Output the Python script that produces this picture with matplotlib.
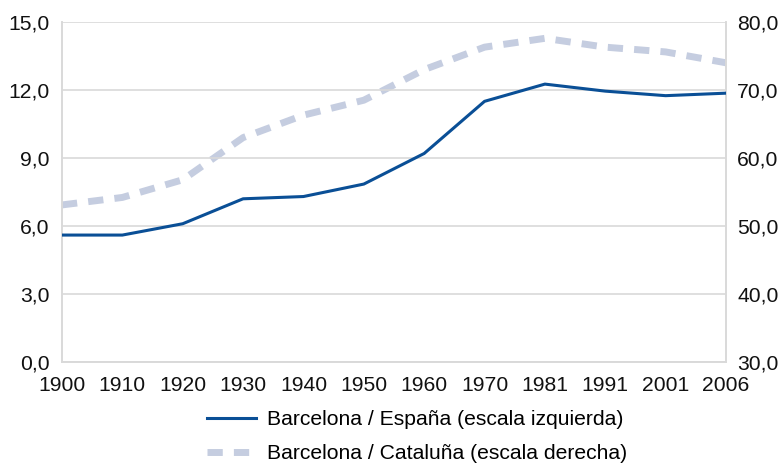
import matplotlib.pyplot as plt
import numpy as np

plt.rcParams['font.family'] = ['Liberation Sans', 'DejaVu Sans']

years = ['1900', '1910', '1920', '1930', '1940', '1950', '1960', '1970', '1981', '1991', '2001', '2006']
bcn_espana = [5.6, 5.6, 6.1, 7.2, 7.3, 7.85, 9.2, 11.5, 12.26, 11.95, 11.75, 11.86]
bcn_cataluna = [53.1, 54.2, 56.8, 63.0, 66.3, 68.5, 73.0, 76.3, 77.6, 76.3, 75.6, 74.0]

grid_col = '#d9d9d9'
x = np.arange(len(years))
fs = 15.2

fig = plt.figure(figsize=(7.82, 4.63), dpi=100)
ax = fig.add_axes([62/782, 1 - 362/463, 664/782, 340/463])
ax2 = ax.twinx()

l1, = ax.plot(x, bcn_espana, color='#0a4f96', lw=2.2, zorder=3)
l2, = ax2.plot(x, bcn_cataluna, color='#c5cde0', lw=5, dashes=(2.2, 1.6), zorder=2)
ax.set_zorder(ax2.get_zorder() + 1)
ax.patch.set_visible(False)

ax.set_xlim(0, len(years) - 1)
ax.set_ylim(0, 15)
ax2.set_ylim(30, 80)
ax.set_yticks(np.arange(0, 15.1, 3))
ax2.set_yticks(np.arange(30, 80.1, 10))
ax.set_yticklabels([f'{v:.1f}'.replace('.', ',') for v in np.arange(0, 15.1, 3)])
ax2.set_yticklabels([f'{v:.1f}'.replace('.', ',') for v in np.arange(30, 80.1, 10)])
ax.set_xticks(x)
ax.set_xticklabels(years)

ax.grid(axis='y', color=grid_col, lw=1.2)
for a in (ax, ax2):
    for s in a.spines.values():
        s.set_color(grid_col)
        s.set_linewidth(1.2)
    a.spines['top'].set_visible(False)
    a.tick_params(length=0, labelsize=fs, colors='#111111')
ax.tick_params(axis='y', pad=9)
ax.tick_params(axis='x', pad=10)
ax2.tick_params(axis='y', pad=8)

fig.legend([l1, l2], ['Barcelona / España (escala izquierda)', 'Barcelona / Cataluña (escala derecha)'],
           loc='upper left', bbox_to_anchor=(203/782, 1 - 406/463), frameon=False,
           fontsize=fs, handlelength=2.3, labelspacing=0.72, handletextpad=0.55,
           borderaxespad=0, borderpad=0.2)

fig.savefig('out.png', dpi=100)
